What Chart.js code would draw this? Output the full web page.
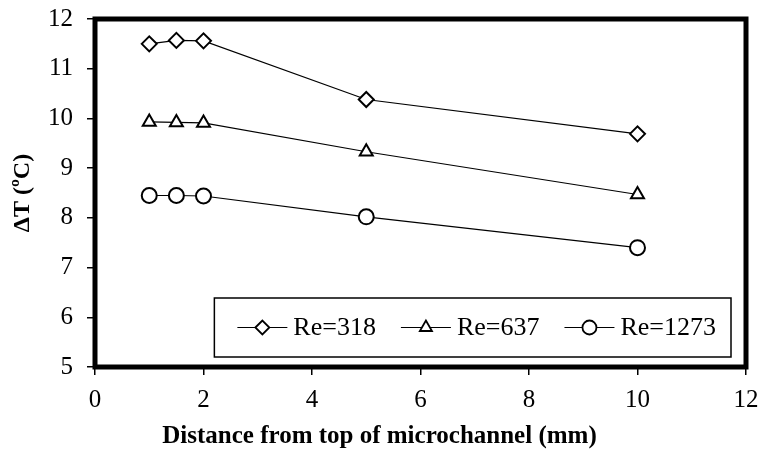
<!DOCTYPE html>
<html>
<head>
<meta charset="utf-8">
<script src="https://cdn.jsdelivr.net/npm/chart.js@4/dist/chart.umd.min.js"></script>
<style>
  html, body { margin: 0; padding: 0; background: #fff; }
  #wrap { width: 759px; height: 453px; }
</style>
</head>
<body>
<div id="wrap"><canvas id="chart" width="759" height="453"></canvas></div>
<script>
// distance from top of microchannel (mm)
const distances = [1, 1.5, 2, 5, 10];

// delta T (ºC) per Reynolds number
const re318 = [11.50, 11.57, 11.56, 10.38, 9.69];
const re637 = [9.93, 9.92, 9.91, 9.33, 8.47];
const re1273 = [8.45, 8.45, 8.44, 8.02, 7.40];

const seriesLabels = ['Re=318', 'Re=637', 'Re=1273'];
const seriesStyles = ['rectRot', 'triangle', 'circle'];

const xTitle = 'Distance from top of microchannel (mm)';
const yTitle = 'ΔT (ºC)';

const FONT = "'Liberation Serif', 'Times New Roman', serif";

function toPoints(values) {
    return distances.map((d, i) => ({ x: d, y: values[i] }));
}

const datasets = [re318, re637, re1273].map((values, i) => ({
    label: seriesLabels[i],
    data: toPoints(values),
    borderColor: '#000',
    borderWidth: 1.2,
    pointStyle: seriesStyles[i],
    pointRadius: 7.5,
    pointBorderWidth: 2,
    pointBorderColor: '#000',
    pointBackgroundColor: '#fff',
    fill: false,
    tension: 0
}));

// thick frame round the plot area
const framePlugin = {
    id: 'frame',
    beforeDatasetsDraw(chart) {
        const { ctx, chartArea: a } = chart;
        ctx.save();
        ctx.strokeStyle = '#000';
        ctx.lineWidth = 5;
        ctx.strokeRect(a.left, a.top, a.right - a.left, a.bottom - a.top);
        ctx.restore();
    }
};

// x title is centred on the whole picture, not on the axis
const xTitlePlugin = {
    id: 'xTitle',
    afterDraw(chart) {
        const { ctx } = chart;
        ctx.save();
        ctx.font = 'bold 25px ' + FONT;
        ctx.fillStyle = '#000';
        ctx.textAlign = 'center';
        ctx.textBaseline = 'middle';
        ctx.fillText(xTitle, chart.width / 2, chart.height - 16);
        ctx.restore();
    }
};

// boxed legend in the lower right corner, line + marker samples
const legendPlugin = {
    id: 'boxLegend',
    afterDatasetsDraw(chart) {
        const { ctx, chartArea: a } = chart;
        const sampleLen = 50, gapText = 6, gapItem = 25, padL = 23, padR = 15;
        ctx.save();
        ctx.font = '26px ' + FONT;
        const widths = seriesLabels.map(t => ctx.measureText(t).width);
        let total = padL + padR;
        widths.forEach((w, i) => {
            total += sampleLen + gapText + w + (i < widths.length - 1 ? gapItem : 0);
        });
        const right = a.right - 15, bottom = a.bottom - 10, h = 59;
        const left = right - total, top = bottom - h;
        ctx.fillStyle = '#fff';
        ctx.fillRect(left, top, total, h);
        ctx.strokeStyle = '#000';
        ctx.lineWidth = 1.5;
        ctx.strokeRect(left, top, total, h);

        const cy = top + h / 2;
        let x = left + padL;
        seriesLabels.forEach((label, i) => {
            ctx.beginPath();
            ctx.strokeStyle = '#000';
            ctx.lineWidth = 1.2;
            ctx.moveTo(x, cy);
            ctx.lineTo(x + sampleLen, cy);
            ctx.stroke();
            ctx.fillStyle = '#fff';
            ctx.strokeStyle = '#000';
            ctx.lineWidth = 1.8;
            Chart.helpers.drawPoint(ctx, {
                pointStyle: seriesStyles[i],
                rotation: 0,
                radius: 7,
                borderWidth: 1.8
            }, x + sampleLen / 2, cy);
            ctx.fillStyle = '#000';
            ctx.textAlign = 'left';
            ctx.textBaseline = 'middle';
            ctx.fillText(label, x + sampleLen + gapText, cy + 1);
            x += sampleLen + gapText + widths[i] + gapItem;
        });
        ctx.restore();
    }
};

new Chart(document.getElementById('chart'), {
    type: 'line',
    data: { datasets },
    plugins: [framePlugin, legendPlugin, xTitlePlugin],
    options: {
        responsive: false,
        animation: false,
        layout: { padding: { top: 19, right: 13, left: 0, bottom: 0 } },
        plugins: {
            legend: { display: false },
            tooltip: { enabled: false }
        },
        scales: {
            x: {
                type: 'linear',
                min: 0,
                max: 12,
                ticks: { stepSize: 2, color: '#000', padding: 10, font: { family: FONT, size: 25 } },
                grid: { drawOnChartArea: false, drawTicks: true, tickLength: 8, color: '#000', lineWidth: 1.5 },
                border: { display: false },
                title: { display: false },
                afterFit(scale) {
                    scale.height = 86;
                    scale.paddingLeft = 0;
                    scale.paddingRight = 0;
                }
            },
            y: {
                min: 5,
                max: 12,
                ticks: { stepSize: 1, color: '#000', padding: 14, font: { family: FONT, size: 25 } },
                grid: { drawOnChartArea: false, drawTicks: true, tickLength: 8, color: '#000', lineWidth: 1.5 },
                border: { display: false },
                title: {
                    display: true,
                    text: yTitle,
                    color: '#000',
                    font: { family: FONT, size: 24, weight: 'bold' },
                    padding: { top: 8, bottom: 0 }
                },
                afterFit(scale) {
                    scale.width = 95;
                    scale.paddingTop = 0;
                    scale.paddingBottom = 0;
                }
            }
        }
    }
});
</script>
</body>
</html>
